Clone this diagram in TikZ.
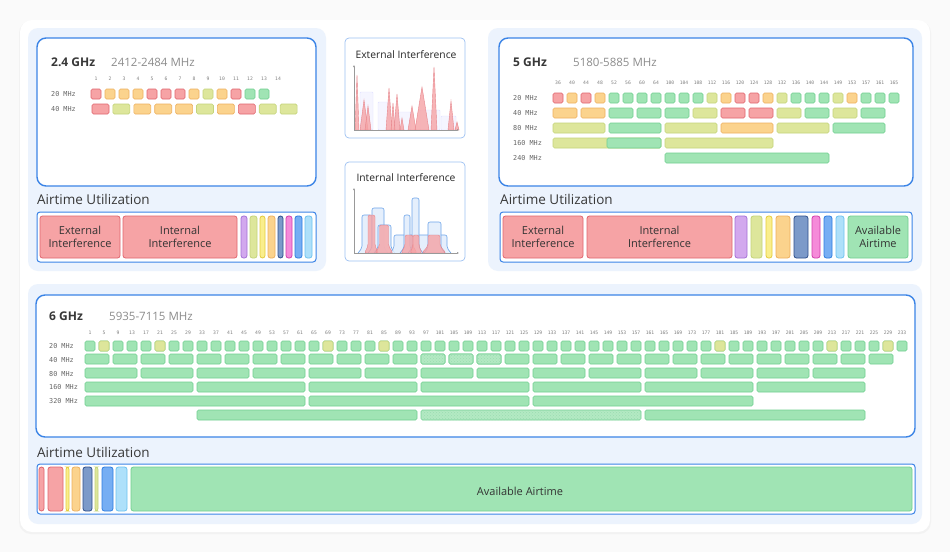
\documentclass[tikz,border=0pt]{standalone}
\usepackage{fontspec}
\setmainfont{Open Sans}
\setmonofont{DejaVu Sans Mono}
\usetikzlibrary{patterns,arrows.meta}

\definecolor{tintred}{HTML}{F6A3A5} \definecolor{edgered}{HTML}{E0656E}
\definecolor{tintora}{HTML}{FBD38D} \definecolor{edgeora}{HTML}{EDB05E}
\definecolor{tintyg}{HTML}{DDE69B}  \definecolor{edgeyg}{HTML}{C4D47A}
\definecolor{tintgrn}{HTML}{A0E4B4} \definecolor{edgegrn}{HTML}{70CF90}
\definecolor{tintpur}{HTML}{D2A8EE} \definecolor{edgepur}{HTML}{A46FD6}
\definecolor{tintyel}{HTML}{FAEE8C} \definecolor{edgeyel}{HTML}{E4CC3E}
\definecolor{tintdb}{HTML}{7C9AC9}  \definecolor{edgedb}{HTML}{2E4F8C}
\definecolor{tintmag}{HTML}{F58AD9} \definecolor{edgemag}{HTML}{D23FAE}
\definecolor{tintblu}{HTML}{76AEF3} \definecolor{edgeblu}{HTML}{2F7DE0}
\definecolor{tintlb}{HTML}{AEE0FA}  \definecolor{edgelb}{HTML}{6EC3EF}
\definecolor{frame}{HTML}{3B84E6}
\definecolor{panelbg}{HTML}{ECF3FD}

\tikzset{
  chip/.style={draw=edge#1, fill=tint#1, line width=.6pt, rounded corners=1.5pt},
  hatch/.style={draw=edgegrn, fill=tintgrn!80!white, line width=.6pt, rounded corners=1.5pt,
    postaction={pattern=crosshatch dots, pattern color=edgegrn!70}},
  seg/.style={draw=edge#1, fill=tint#1, line width=.8pt, rounded corners=2.5pt},
  panel/.style={fill=panelbg, rounded corners=10pt},
  bandbox/.style={draw=frame, fill=white, line width=1.4pt, rounded corners=9pt},
  barframe/.style={draw=frame, fill=white, line width=1pt, rounded corners=3pt},
  chartbox/.style={draw=frame!50, fill=white, line width=.7pt, rounded corners=4pt},
  title/.style={font=\fontsize{12}{14}\selectfont\bfseries, text=black!78, anchor=west, inner sep=0},
  band/.style={font=\fontsize{11.5}{14}\selectfont, text=black!45, anchor=west, inner sep=0},
  rowlbl/.style={font=\ttfamily\fontsize{6.8}{8}\selectfont, text=black!60, anchor=west, inner sep=0},
  chnum/.style={font=\ttfamily\fontsize{4.7}{5}\selectfont, text=black!50, inner sep=0},
  heading/.style={font=\fontsize{13.5}{16}\selectfont, text=black!78, anchor=west, inner sep=0},
  bartext/.style={font=\fontsize{11}{13}\selectfont, text=black!80, align=center, inner sep=0},
  charttitle/.style={font=\fontsize{10.3}{12}\selectfont, text=black!85, inner sep=0},
  axis/.style={draw=black!40, line width=.5pt, <->, >={Latex[length=2pt,width=2pt]}},
  peak/.style={fill=tintred, fill opacity=.8, draw=edgered!80, line width=.4pt},
  ichan/.style={draw=edgeblu!70, fill=tintblu!22, fill opacity=.85, line width=.6pt, rounded corners=2pt},
  ghost/.style={draw=blue!12, fill=blue!4, line width=.4pt, rounded corners=1pt}
}

\begin{document}
\begin{tikzpicture}[x=1pt, y=-1pt]
\useasboundingbox (0,0) rectangle (950,552);
\fill[black!2] (0,0) rectangle (950,552);
\fill[black!5, rounded corners=12pt] (19,21) rectangle (931,534);
\fill[white, rounded corners=12pt] (20,20) rectangle (930,532);

% panels
\fill[panel] (28,28) rectangle (326,271);
\fill[panel] (488,28) rectangle (922,271);
\fill[panel] (28,284) rectangle (922,524);

% ---- 2.4 GHz
\draw[bandbox] (37,38) rectangle (316,186);
\node[title] (ttl24) at (51,62) {2.4 GHz};
\node[band] (rng24) at (111,62) {2412-2484 MHz};
\node[rowlbl] (r24a) at (51,94) {20 MHz};
\node[rowlbl] (r24b) at (51,109) {40 MHz};
\foreach \n [count=\i from 0] in {1,...,14}
  \node[chnum] (c24-\n) at ({96+14*\i},79) {\n};
\foreach \c [count=\i from 0] in {red,ora,ora,ora,red,red,red,ora,yg,ora,red,grn,grn}
  \draw[chip=\c] ({91+14*\i},89) rectangle ++(10,10);
\foreach \c [count=\i from 0] in {red,yg,ora,ora,ora,yg,ora,red,yg,yg}
  \draw[chip=\c] ({92+20.9*\i},104) rectangle ++(17,10);

\node[heading] (air24) at (37,199) {Airtime Utilization};
\draw[barframe] (37,212) rectangle (316,262);
\draw[seg=red] (40,216) rectangle (120,258);
\draw[seg=red] (123,216) rectangle (237,258);
\node[bartext] (ext24) at (80,237) {External\\Interference};
\node[bartext] (int24) at (180,237) {Internal\\Interference};
\foreach \c/\a/\b in {pur/241/247, yg/250/257, yel/260/265, ora/268/275,
                      db/278/283, mag/286/292, blu/295/302, lb/305/312}
  \draw[seg=\c] (\a,216) rectangle (\b,258);

% ---- interference charts
\draw[chartbox] (345,38) rectangle (465,138);
\node[charttitle] (extT) at (406,55) {External Interference};
\foreach \a/\b/\t in {360/373/92, 378/390/102, 395/411/112, 420/440/110, 441/456/116}
  \draw[ghost] (\a,\t) rectangle (\b,130);
\foreach \x/\t/\w in {357/75/2, 364/100/4, 368/106/3, 389/88/3, 393/103/2, 397/94/3,
                      402/118/2, 412/106/4, 422/87/7, 434/67/3, 451/101/3, 457/122/2}
  \draw[peak] ({\x-\w},130) -- (\x,\t) -- ({\x+\w},130) -- cycle;
\draw[axis] (354,65) -- (354,130) -- (459,130);

\draw[chartbox] (345,162) rectangle (465,261);
\node[charttitle] (intT) at (406,178) {Internal Interference};
\foreach \a/\b/\t in {362/372/215, 372/384/208, 378/391/225, 394/447/235,
                      404/410/215, 412/419/198, 428/441/222}
  \draw[ichan] ({\a-4},253) -- (\a,248) -- (\a,\t) -- (\b,\t) -- (\b,248) -- ({\b+4},253);
\foreach \c/\t/\w in {371.5/215/7, 384/225/9, 409/235/8, 416/235/6, 434/235/12}
  \draw[peak, rounded corners=2pt] ({\c-\w},253) -- ({\c-\w/2},246) -- ({\c-\w/2},\t)
    -- ({\c+\w/2},\t) -- ({\c+\w/2},246) -- ({\c+\w},253) -- cycle;
\draw[axis] (354,188) -- (354,253) -- (459,253);

% ---- 5 GHz
\draw[bandbox] (499,38) rectangle (913,186);
\node[title] (ttl5) at (513,62) {5 GHz};
\node[band] (rng5) at (573,62) {5180-5885 MHz};
\foreach \l [count=\i from 0] in {20,40,80,160,240}
  \node[rowlbl] (r5-\l) at (513,{98+15*\i}) {\l\ MHz};
\foreach \n [count=\i from 0] in {36,40,44,48,52,56,60,64,100,104,108,112,116,
                                  120,124,128,132,136,140,144,149,153,157,161,165}
  \node[chnum] (c5-\n) at ({558+14*\i},83) {\n};
\foreach \c [count=\i from 0] in {red,ora,red,ora,grn,grn,grn,grn,grn,grn,grn,yg,ora,
                                  red,red,ora,yg,grn,grn,grn,yg,ora,grn,grn,grn}
  \draw[chip=\c] ({553+14*\i},93) rectangle ++(10,10);
\foreach \c/\a in {ora/0,ora/2,grn/4,grn/6,grn/8,yg/10,red/12,red/14,yg/16,grn/18,yg/20,grn/22}
  \draw[chip=\c] ({553+14*\a},108) rectangle ++(24,10);
\foreach \c/\a in {yg/0,grn/4,yg/8,ora/12,yg/16,grn/20}
  \draw[chip=\c] ({553+14*\a},123) rectangle ++(52,10);
\draw[chip=yg] (553,138) rectangle ++(108,10);
\draw[chip=grn] (607,138) rectangle ++(54,10);
\draw[chip=yg] (665,138) rectangle ++(108,10);
\draw[chip=grn] (665,153) rectangle ++(164,10);

\node[heading] (air5) at (500,199) {Airtime Utilization};
\draw[barframe] (500,212) rectangle (912,262);
\draw[seg=red] (503,216) rectangle (583,258);
\draw[seg=red] (587,216) rectangle (732,258);
\draw[seg=grn] (848,216) rectangle (908,258);
\node[bartext] (ext5) at (543,237) {External\\Interference};
\node[bartext] (int5) at (659.5,237) {Internal\\Interference};
\node[bartext] (av5) at (878,237) {Available\\Airtime};
\foreach \c/\a/\b in {pur/735/747, yg/751/762, yel/766/772, ora/776/790,
                      db/794/808, mag/812/820, blu/824/832, lb/836/844}
  \draw[seg=\c] (\a,216) rectangle (\b,258);

% ---- 6 GHz
\draw[bandbox] (36,295) rectangle (915,437);
\node[title] (ttl6) at (49,316) {6 GHz};
\node[band] (rng6) at (109,316) {5935-7115 MHz};
\foreach \l [count=\i from 0] in {20,40,80,160,320}
  \node[rowlbl] (r6-\l) at (49,{346+13.8*\i}) {\l\ MHz};
\foreach \i in {0,...,58}{
  \pgfmathtruncatemacro\ch{1+4*\i}
  \node[chnum] (c6-\ch) at ({90+14*\i},333) {\ch};
  \draw[chip=grn] ({85+14*\i},341) rectangle ++(10,10);
}
\foreach \i in {1,5,17,21,45,53,57}
  \draw[chip=yg] ({85+14*\i},341) rectangle ++(10,10);
\foreach \a in {0,2,...,56}
  \draw[chip=grn] ({85+14*\a},354) rectangle ++(24,10);
\foreach \a in {24,26,28}
  \draw[hatch] ({85+14*\a},354) rectangle ++(24,10);
\foreach \a in {0,4,...,52}
  \draw[chip=grn] ({85+14*\a},368) rectangle ++(52,10);
\foreach \a in {0,8,...,48}
  \draw[chip=grn] ({85+14*\a},382) rectangle ++(108,10);
\foreach \a in {0,16,32}
  \draw[chip=grn] ({85+14*\a},396) rectangle ++(220,10);
\foreach \a in {8,40}
  \draw[chip=grn] ({85+14*\a},410) rectangle ++(220,10);
\draw[hatch] ({85+14*24},410) rectangle ++(220,10);

\node[heading] (air6) at (37,452) {Airtime Utilization};
\draw[barframe] (37,464) rectangle (915,514);
\foreach \c/\a/\b in {red/39/44, red/48/63, yel/66/69, ora/72/80,
                      db/83/92, yg/95/98, blu/102/113, lb/116/127}
  \draw[seg=\c] (\a,467) rectangle (\b,511);
\draw[seg=grn] (131,467) rectangle (912,511);
\node[bartext] (av6) at (520,491) {Available Airtime};
\end{tikzpicture}
\end{document}
